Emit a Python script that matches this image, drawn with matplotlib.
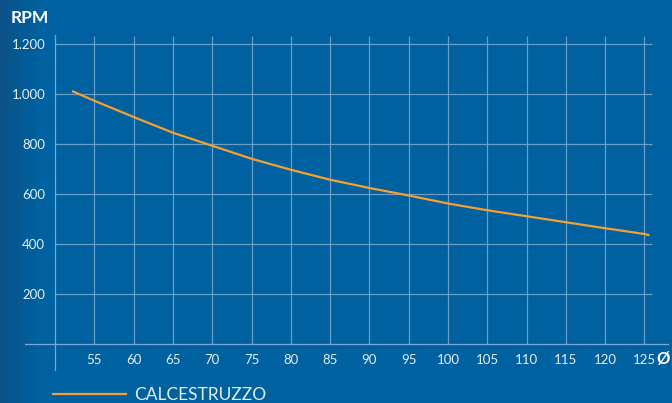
import numpy as np
import matplotlib
matplotlib.use("Agg")
import matplotlib.pyplot as plt

# diameter (mm) vs rotation speed
diam = [52.3, 55, 60, 65, 70, 75, 80, 85, 90, 95, 100, 105, 110, 115, 120, 125, 125.5]
rpm = [1010, 973, 908, 845, 793, 741, 697, 657, 624, 594, 562, 535, 511, 487, 463, 440, 436]
series_name = "CALCESTRUZZO"

x_ticks = list(range(55, 130, 5))
y_ticks = [200, 400, 600, 800, 1000, 1200]
y_labels = ["200", "400", "600", "800", "1.000", "1.200"]

bg = "#0061a0"
grid_col = "#7aa8d0"
txt_col = "#e4eef7"
orange = "#f5a031"

plt.rcParams["font.family"] = ["Lato", "DejaVu Sans"]

fig = plt.figure(figsize=(6.72, 4.03), dpi=100)
fig.patch.set_facecolor(bg)

# background with a slightly darker left edge
bga = fig.add_axes([0, 0, 1, 1], zorder=-10)
grad = np.ones((2, 200))
grad[:, :12] = np.linspace(0.0, 1.0, 12)
bga.imshow(grad, aspect="auto", extent=[0, 1, 0, 1],
           cmap=matplotlib.colors.LinearSegmentedColormap.from_list("b", ["#0a5288", bg]),
           vmin=0, vmax=1)
bga.axis("off")

ax = fig.add_axes([23.6 / 672, 31.5 / 403, 648.4 / 672, 337.5 / 403])
ax.patch.set_alpha(0)
ax.set_xlim(46, 128.5)
ax.set_ylim(-110, 1240)

# grid
ax.vlines(x_ticks, 0, 1233, color=grid_col, lw=0.9, alpha=0.85, zorder=1)
ax.hlines(y_ticks, 50, 126, color=grid_col, lw=0.9, alpha=0.85, zorder=1)

ax.plot(diam, rpm, color=orange, lw=1.6, zorder=3, label=series_name,
        solid_joinstyle="round")

for s in ["top", "right"]:
    ax.spines[s].set_visible(False)
ax.spines["left"].set_position(("data", 50))
ax.spines["left"].set_bounds(-104, 1236)
ax.spines["bottom"].set_position(("data", 0))
ax.spines["bottom"].set_bounds(46.2, 128)
for s in ["left", "bottom"]:
    ax.spines[s].set_color(grid_col)
    ax.spines[s].set_linewidth(0.9)

ax.set_xticks(x_ticks)
ax.set_yticks(y_ticks)
ax.set_yticklabels(y_labels)
ax.tick_params(length=0, colors=txt_col, labelsize=9.5)
ax.tick_params(axis="y", pad=7)
ax.tick_params(axis="x", pad=7.5)

ax.annotate("Ø", xy=(127.4, 0), xytext=(0, -10.5), textcoords="offset points",
            ha="center", va="center", color="white", fontsize=12, fontweight="bold")
fig.text(11 / 672, 1 - 18 / 403, "RPM", color="white", fontsize=12.5,
         fontweight="bold", va="center", ha="left")

leg = fig.legend(loc="center left", bbox_to_anchor=(52.7 / 672, 1 - 395 / 403),
                 frameon=False, borderpad=0, borderaxespad=0, handlelength=4.2,
                 handletextpad=0.5, fontsize=12.5)
for t in leg.get_texts():
    t.set_color(txt_col)

fig.savefig("out.png", dpi=100, facecolor=fig.get_facecolor())
